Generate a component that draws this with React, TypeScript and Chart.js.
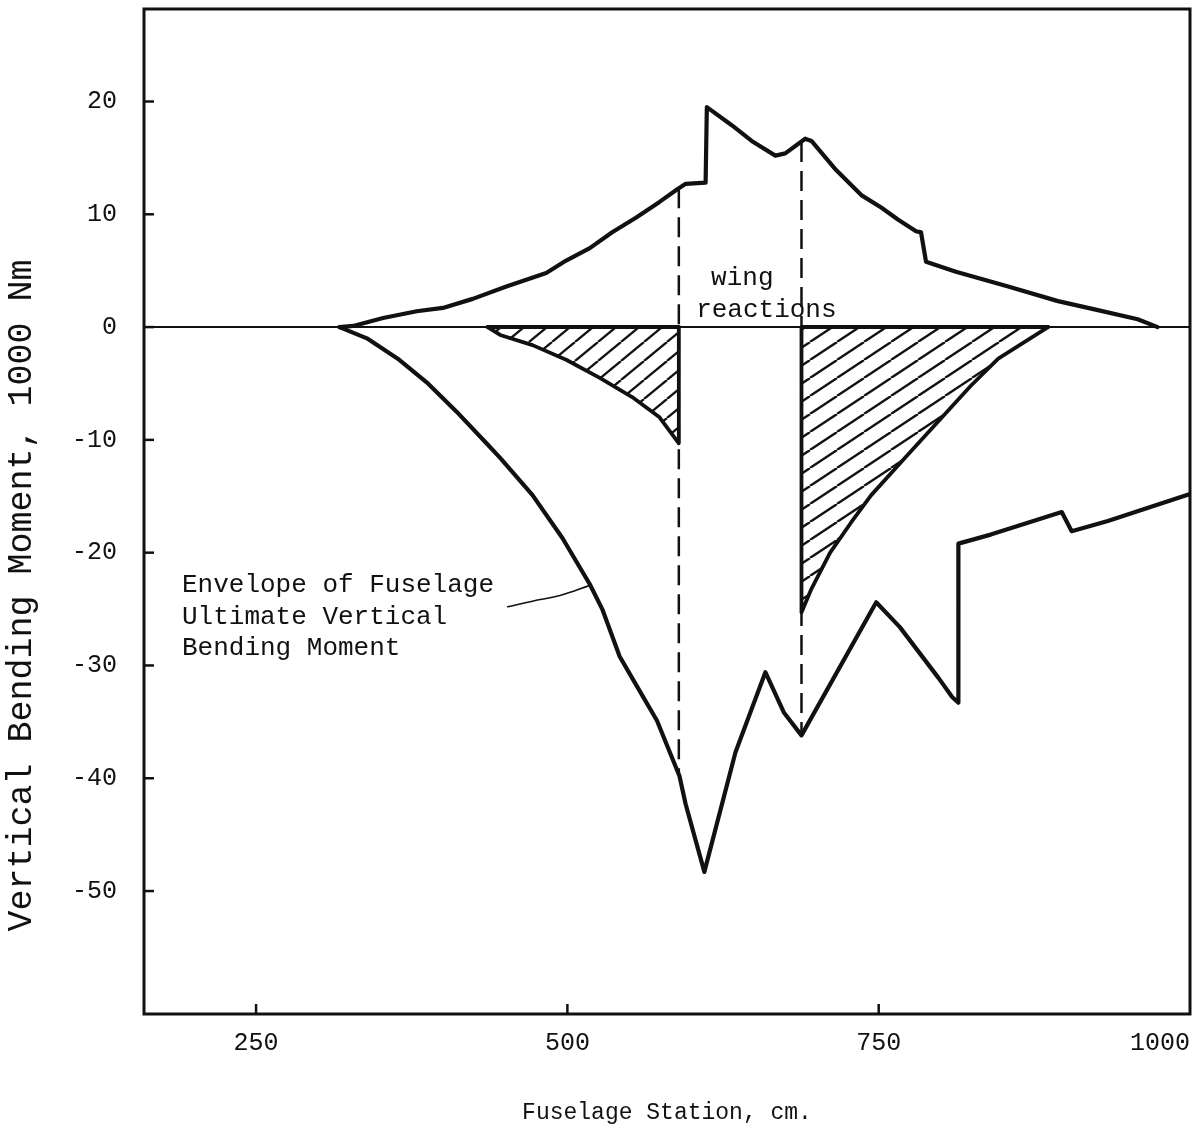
import React, { useEffect, useRef } from 'react';
import { Chart, registerables } from 'chart.js';

Chart.register(...registerables);

// ---------- data ----------
const stationMin = 160;
const stationMax = 1000;
const momentMin = -60.9;
const momentMax = 28.2;
const xTickValues = [250, 500, 750, 1000];
const yTickValues = [-50, -40, -30, -20, -10, 0, 10, 20];

const upperStations = [317, 328, 352, 379, 400, 424, 451, 483, 499, 518, 536, 555, 574, 588, 595, 611, 612, 632, 648, 667, 675, 691, 696, 716, 736, 752, 766, 780, 784, 788, 812, 854, 894, 926, 958, 974];
const upperMoments = [0, 0.1, 0.8, 1.4, 1.7, 2.5, 3.6, 4.8, 5.9, 7.0, 8.4, 9.7, 11.1, 12.2, 12.7, 12.8, 19.5, 17.9, 16.5, 15.2, 15.4, 16.7, 16.5, 13.9, 11.7, 10.6, 9.5, 8.5, 8.4, 5.8, 4.9, 3.6, 2.3, 1.5, 0.7, 0];

const lowerStations = [317, 339, 365, 387, 411, 435, 446, 472, 496, 518, 528, 542, 553, 572, 590, 595, 606, 610, 635, 659, 674, 688, 748, 767, 798, 809, 814, 814, 840, 897, 905, 934, 1000];
const lowerMoments = [0, -1.0, -2.9, -4.9, -7.5, -10.3, -11.6, -14.9, -18.7, -22.8, -25.0, -29.2, -31.3, -34.9, -39.8, -42.3, -46.7, -48.3, -37.7, -30.6, -34.2, -36.2, -24.4, -26.6, -31.1, -32.8, -33.3, -19.2, -18.4, -16.4, -18.1, -17.2, -14.8];

const forwardHatchStations = [436, 446, 472, 499, 526, 552, 574, 589.5, 589.5];
const forwardHatchMoments = [0, -0.7, -1.6, -2.9, -4.5, -6.2, -8.0, -10.3, 0];

const aftHatchStations = [688, 688, 696, 711, 728, 744, 771, 795, 824, 846, 886];
const aftHatchMoments = [0, -25.3, -23.2, -20.0, -17.3, -14.9, -11.6, -8.7, -5.2, -2.8, 0];

const wingReactionStations = [589.5, 688];
const wingReactionTops = [12.3, 16.4];
const wingReactionBottoms = [-39.8, -36.2];

const leaderStations = [452, 472, 494, 518];
const leaderMoments = [-24.8, -24.3, -23.8, -22.9];

// ---------- styling ----------
const MONO = '"Liberation Mono", "DejaVu Sans Mono", monospace';
const INK = '#111';

const pts = (xs: number[], ys: number[]) => xs.map((x, i) => ({ x, y: ys[i] }));

function makeHatch(ctx: CanvasRenderingContext2D, w: number, h: number) {
  const c = document.createElement('canvas');
  c.width = w;
  c.height = h;
  const g = c.getContext('2d')!;
  g.strokeStyle = INK;
  g.lineWidth = 2.3;
  for (const off of [-w, 0, w]) {
    g.beginPath();
    g.moveTo(off, h);
    g.lineTo(off + w, 0);
    g.stroke();
  }
  return ctx.createPattern(c, 'repeat');
}

const framePlugin = {
  id: 'frameAndNotes',
  afterDatasetsDraw(chart: any) {
    const { ctx, chartArea, scales } = chart;
    const xs = scales.x;
    const ys = scales.y;
    ctx.save();
    ctx.strokeStyle = INK;
    ctx.lineWidth = 3;
    ctx.strokeRect(chartArea.left, chartArea.top, chartArea.right - chartArea.left, chartArea.bottom - chartArea.top);
    ctx.lineWidth = 2.5;
    for (const v of yTickValues) {
      const py = ys.getPixelForValue(v);
      ctx.beginPath();
      ctx.moveTo(chartArea.left, py);
      ctx.lineTo(chartArea.left + 10, py);
      ctx.stroke();
    }
    for (const v of xTickValues) {
      if (v >= stationMax) continue;
      const px = xs.getPixelForValue(v);
      ctx.beginPath();
      ctx.moveTo(px, chartArea.bottom);
      ctx.lineTo(px, chartArea.bottom - 10);
      ctx.stroke();
    }
    ctx.fillStyle = INK;
    ctx.font = '26px ' + MONO;
    ctx.textAlign = 'left';
    ctx.textBaseline = 'alphabetic';
    ctx.fillText('wing', xs.getPixelForValue(615.4), ys.getPixelForValue(3.76));
    ctx.fillText('reactions', xs.getPixelForValue(603.4), ys.getPixelForValue(0.91));
    const envelopeLines = ['Envelope of Fuselage', 'Ultimate Vertical', 'Bending Moment'];
    const envelopeBase = [-23.46, -26.29, -29.04];
    envelopeLines.forEach((t, i) => {
      ctx.fillText(t, xs.getPixelForValue(190.5), ys.getPixelForValue(envelopeBase[i]));
    });
    ctx.restore();
  },
};

export default function App() {
  const ref = useRef<HTMLCanvasElement | null>(null);

  useEffect(() => {
    const canvas = ref.current!;
    const ctx = canvas.getContext('2d')!;
    const fwdPattern = makeHatch(ctx, 23, 19);
    const aftPattern = makeHatch(ctx, 27, 18);

    const line = (data: any[], width: number, extra: any = {}) => ({
      data,
      borderColor: INK,
      borderWidth: width,
      pointRadius: 0,
      fill: false,
      tension: 0,
      borderJoinStyle: 'round',
      borderCapStyle: 'round',
      ...extra,
    });

    const datasets: any[] = [
      line(pts(upperStations, upperMoments), 4.2),
      line(pts(lowerStations, lowerMoments), 4.2),
      line(pts(forwardHatchStations, forwardHatchMoments), 3.8, { fill: 'origin', backgroundColor: fwdPattern }),
      line(pts(aftHatchStations, aftHatchMoments), 3.8, { fill: 'origin', backgroundColor: aftPattern }),
      line([
        { x: forwardHatchStations[0], y: 0 },
        { x: forwardHatchStations[forwardHatchStations.length - 1], y: 0 },
      ], 4),
      line([
        { x: aftHatchStations[0], y: 0 },
        { x: aftHatchStations[aftHatchStations.length - 1], y: 0 },
      ], 4),
      line([{ x: stationMin, y: 0 }, { x: stationMax, y: 0 }], 2),
      ...wingReactionStations.map((s, i) =>
        line([{ x: s, y: wingReactionTops[i] }, { x: s, y: wingReactionBottoms[i] }], 2.5, {
          borderDash: [20, 9],
          borderCapStyle: 'butt',
        })
      ),
      line(pts(leaderStations, leaderMoments), 1.6, { tension: 0.4 }),
    ];

    const chart = new Chart(canvas, {
      type: 'line',
      data: { datasets },
      options: {
        animation: false,
        responsive: false,
        devicePixelRatio: 1,
        layout: { padding: { left: 0, top: 9, right: 11, bottom: 0 } },
        plugins: { legend: { display: false }, tooltip: { enabled: false } },
        scales: {
          x: {
            type: 'linear',
            min: stationMin,
            max: stationMax,
            grid: { display: false, drawTicks: false },
            border: { display: false },
            afterBuildTicks: (s: any) => {
              s.ticks = xTickValues.map((v) => ({ value: v }));
            },
            afterFit: (s: any) => {
              s.height = 126;
              s.paddingLeft = 0;
              s.paddingRight = 0;
            },
            ticks: {
              padding: 14,
              maxRotation: 0,
              autoSkip: false,
              color: INK,
              font: { family: MONO, size: 25 },
              callback: (v: any) =>
                v === xTickValues[xTickValues.length - 1] ? String(v) + '\u00A0'.repeat(4) : String(v),
            },
            title: {
              display: true,
              text: 'Fuselage Station, cm.',
              color: INK,
              font: { family: MONO, size: 23 },
              padding: { top: 0, bottom: 13 },
            },
          },
          y: {
            type: 'linear',
            min: momentMin,
            max: momentMax,
            grid: { display: false, drawTicks: false },
            border: { display: false },
            afterBuildTicks: (s: any) => {
              s.ticks = yTickValues.map((v) => ({ value: v }));
            },
            afterFit: (s: any) => {
              s.width = 144;
              s.paddingTop = 0;
              s.paddingBottom = 0;
            },
            ticks: {
              padding: 27,
              autoSkip: false,
              color: INK,
              font: { family: MONO, size: 25 },
              callback: (v: any) => String(v),
            },
            title: {
              display: true,
              text: 'Vertical Bending Moment, 1000 Nm' + '\u00A0'.repeat(8),
              color: INK,
              font: { family: MONO, size: 35 },
              padding: { top: 1, bottom: 0 },
            },
          },
        },
      },
      plugins: [framePlugin],
    });

    return () => chart.destroy();
  }, []);

  return (
    <div style={{ position: 'absolute', left: 0, top: 0, width: 1201, height: 1140, background: '#fff' }}>
      <canvas ref={ref} width={1201} height={1140} style={{ display: 'block' }} />
    </div>
  );
}
